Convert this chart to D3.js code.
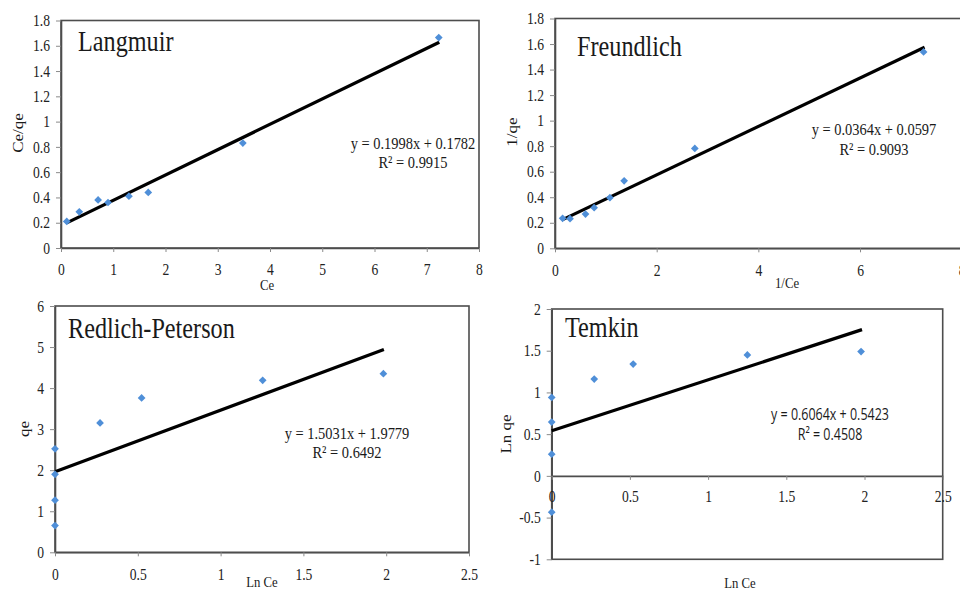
<!DOCTYPE html>
<html>
<head>
<meta charset="utf-8">
<script src="https://cdn.jsdelivr.net/npm/d3@7"></script>
<style>
  body { margin: 0; background: #fff; }
  svg { display: block; }
</style>
</head>
<body>
<div class="chart"></div>
<script>
// Langmuir: Ce vs Ce/qe
var langCe   = [0.11, 0.35, 0.71, 0.90, 1.30, 1.67, 3.48, 7.23];
var langCeQe = [0.21, 0.286, 0.38, 0.36, 0.41, 0.44, 0.83, 1.665];
var langFitX = [0.11, 7.24];
var langFitY = [0.199, 1.628];
var langXTicks = [0, 1, 2, 3, 4, 5, 6, 7, 8];
var langYTicks = [0, 0.2, 0.4, 0.6, 0.8, 1, 1.2, 1.4, 1.6, 1.8];

// Freundlich: 1/Ce vs 1/qe
var frInvCe = [0.15, 0.295, 0.60, 0.77, 1.08, 1.36, 2.75, 7.25];
var frInvQe = [0.235, 0.232, 0.268, 0.318, 0.396, 0.529, 0.782, 1.538];
var frFitX = [0.13, 7.27];
var frFitY = [0.221, 1.575];
var frXTicks = [0, 2, 4, 6, 8];
var frYTicks = [0, 0.2, 0.4, 0.6, 0.8, 1, 1.2, 1.4, 1.6, 1.8];

// Redlich-Peterson: Ln Ce vs qe
var rpLnCe = [0, 0, 0, 0, 0.272, 0.523, 1.254, 1.983];
var rpQe   = [2.52, 1.90, 1.27, 0.65, 3.15, 3.76, 4.19, 4.35];
var rpFitX = [0, 1.986];
var rpFitY = [1.96, 4.94];
var rpXTicks = [0, 0.5, 1, 1.5, 2, 2.5];
var rpYTicks = [0, 1, 2, 3, 4, 5, 6];

// Temkin: Ln Ce vs Ln qe
var tkLnCe = [0, 0, 0, 0, 0.272, 0.521, 1.251, 1.978];
var tkLnQe = [0.94, 0.645, 0.26, -0.436, 1.16, 1.34, 1.45, 1.49];
var tkFitX = [0, 1.984];
var tkFitY = [0.54, 1.753];
var tkXTicks = [0, 0.5, 1, 1.5, 2, 2.5];
var tkYTicks = [-1, -0.5, 0, 0.5, 1, 1.5, 2];

var SX = 0.85; // the source picture is squeezed sideways
var fmt = d => String(+d.toFixed(2));

var panels = [
  {x: langCe, y: langCeQe, fx: langFitX, fy: langFitY, xt: langXTicks, yt: langYTicks,
   box: {l: 61, r: 479, t: 20.5, b: 248}, xAxisAt: null,
   title: "Langmuir", tx: 78, ty: 51,
   eq: ["y = 0.1998x + 0.1782", "R\u00b2 = 0.9915"], ex: 413, ey: [149, 168], sans: false,
   xl: "Ce", xlx: 267, xly: 290, yl: "Ce/qe", ylx: 23, yly: 133},
  {x: frInvCe, y: frInvQe, fx: frFitX, fy: frFitY, xt: frXTicks, yt: frYTicks,
   box: {l: 555, r: 961.7, t: 18.5, b: 248.3}, xAxisAt: null,
   title: "Freundlich", tx: 577, ty: 56,
   eq: ["y = 0.0364x + 0.0597", "R\u00b2 = 0.9093"], ex: 874, ey: [135, 155], sans: false,
   xl: "1/Ce", xlx: 787, xly: 288, yl: "1/qe", ylx: 517, yly: 132},
  {x: rpLnCe, y: rpQe, fx: rpFitX, fy: rpFitY, xt: rpXTicks, yt: rpYTicks,
   box: {l: 55, r: 469, t: 306, b: 552.3}, xAxisAt: null,
   title: "Redlich-Peterson", tx: 68, ty: 338,
   eq: ["y = 1.5031x + 1.9779", "R\u00b2 = 0.6492"], ex: 347, ey: [439, 458], sans: false,
   xl: "Ln Ce", xlx: 262, xly: 587, yl: "qe", ylx: 29, yly: 429},
  {x: tkLnCe, y: tkLnQe, fx: tkFitX, fy: tkFitY, xt: tkXTicks, yt: tkYTicks,
   box: {l: 551.7, r: 942.7, t: 309, b: 559.3}, xAxisAt: 0,
   title: "Temkin", tx: 565, ty: 337,
   eq: ["y = 0.6064x + 0.5423", "R\u00b2 = 0.4508"], ex: 830, ey: [419.5, 439.5], sans: true,
   xl: "Ln Ce", xlx: 740, xly: 588, yl: "Ln qe", ylx: 511, yly: 434}
];

var svg = d3.select(".chart").append("svg")
    .attr("width", 960)
    .attr("height", 592);

function squeeze(sel, sx) {
  sel.each(function() {
    var t = d3.select(this);
    var x = +t.attr("x") || 0, y = +t.attr("y") || 0;
    t.attr("x", null).attr("y", null)
     .attr("transform", "translate(" + x + "," + y + ") scale(" + sx + ",1)");
  });
}

function addText(x, y, str, size, anchor, family, sx) {
  return svg.append("text")
    .attr("transform", "translate(" + x + "," + y + ") scale(" + sx + ",1)")
    .attr("text-anchor", anchor)
    .attr("font-family", family)
    .attr("font-size", size)
    .attr("fill", "#1a1a1a")
    .text(str);
}

var serif = "'Liberation Serif', 'Times New Roman', serif";
var sans = "'Open Sans', 'Noto Sans', sans-serif";

panels.forEach(p => {
  var b = p.box;
  var xScale = d3.scaleLinear().domain([p.xt[0], p.xt[p.xt.length - 1]]).range([b.l, b.r]);
  var yScale = d3.scaleLinear().domain([p.yt[0], p.yt[p.yt.length - 1]]).range([b.b, b.t]);

  // plot frame
  svg.append("rect")
    .attr("x", b.l).attr("y", b.t)
    .attr("width", b.r - b.l).attr("height", b.b - b.t)
    .attr("fill", "none")
    .attr("stroke", "#4d4d4d")
    .attr("stroke-width", 1.6);

  var yAxis = d3.axisLeft(yScale).tickValues(p.yt).tickFormat(fmt)
    .tickSize(5).tickSizeOuter(0).tickPadding(6);
  var yg = svg.append("g")
    .attr("transform", "translate(" + b.l + ",0)")
    .call(yAxis);

  var xBase = p.xAxisAt === null ? b.b : yScale(p.xAxisAt);
  var xAxis = d3.axisBottom(xScale).tickValues(p.xt).tickFormat(fmt)
    .tickSize(4).tickSizeOuter(0).tickPadding(p.xAxisAt === null ? 12 : 11);
  var xg = svg.append("g")
    .attr("transform", "translate(0," + xBase + ")")
    .call(xAxis);

  [xg, yg].forEach(g => {
    g.select(".domain").attr("stroke", "#4d4d4d").attr("stroke-width", 1.6);
    g.selectAll(".tick line").attr("stroke", "#8a8a8a");
    g.selectAll(".tick text")
      .attr("font-family", serif)
      .attr("font-size", 16)
      .attr("fill", "#222")
      .call(squeeze, SX);
  });

  // trend line
  svg.append("line")
    .attr("x1", xScale(p.fx[0])).attr("y1", yScale(p.fy[0]))
    .attr("x2", xScale(p.fx[1])).attr("y2", yScale(p.fy[1]))
    .attr("stroke", "#000")
    .attr("stroke-width", 3.2);

  // data points
  svg.append("g").selectAll("path")
    .data(p.x.map((v, i) => [v, p.y[i]]))
    .enter()
    .append("path")
    .attr("d", d3.symbol().type(d3.symbolSquare).size(30))
    .attr("transform", d => "translate(" + xScale(d[0]) + "," + yScale(d[1]) + ") rotate(45)")
    .attr("fill", "#4f8fd8");

  addText(p.tx, p.ty, p.title, 28.5, "start", serif, SX);

  if (p.sans) {
    addText(p.ex, p.ey[0], p.eq[0], 16, "middle", sans, 0.78);
    addText(p.ex, p.ey[1], p.eq[1], 16, "middle", sans, 0.78);
  } else {
    addText(p.ex, p.ey[0], p.eq[0], 17, "middle", serif, SX);
    addText(p.ex, p.ey[1], p.eq[1], 17, "middle", serif, SX);
  }

  addText(p.xlx, p.xly, p.xl, 15, "middle", serif, SX);

  svg.append("text")
    .attr("transform", "translate(" + p.ylx + "," + p.yly + ") rotate(-90) scale(1," + SX + ")")
    .attr("text-anchor", "middle")
    .attr("font-family", serif)
    .attr("font-size", 17)
    .attr("fill", "#1a1a1a")
    .text(p.yl);
});
</script>
</body>
</html>
